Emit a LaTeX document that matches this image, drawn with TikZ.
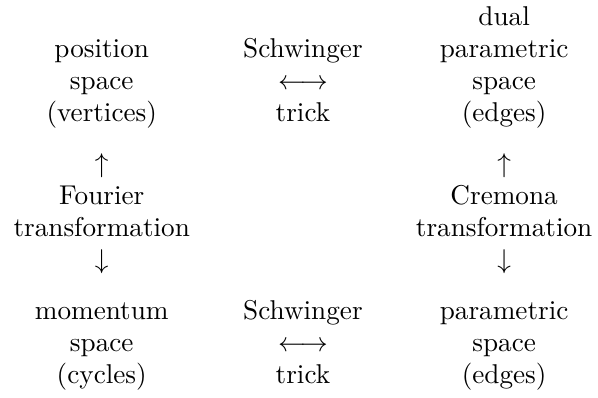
\documentclass[tikz,border=0pt]{standalone}
\usepackage{amsmath,amssymb}
\usepackage{tikz}
\usetikzlibrary{matrix}
\tikzset{
	scheme/.style={
		matrix of nodes,
		inner sep=0pt,
		outer sep=0pt,
		column sep=19.6pt,
		row sep=0pt,
		nodes={inner sep=0pt, text height=8.8pt, text depth=3pt},
	},
}

\begin{document}
\begin{tikzpicture}
	\useasboundingbox (0,0) rectangle (219.9pt,-146.3pt);
	% Spaces and transformations
	\matrix[scheme, anchor=north] (s) at (111.4pt,-0.4pt) {
		& & dual\\
		position & Schwinger & parametric\\
		space & $\longleftrightarrow$ & space\\
		(vertices) & trick & (edges)\\[7pt]
		$\uparrow$ & & $\uparrow$\\
		Fourier & & Cremona\\
		transformation & & transformation\\
		$\downarrow$ & & $\downarrow$\\[7pt]
		momentum & Schwinger & parametric\\
		space & $\longleftrightarrow$ & space\\
		(cycles) & trick & (edges)\\
	};
\end{tikzpicture}
\end{document}
